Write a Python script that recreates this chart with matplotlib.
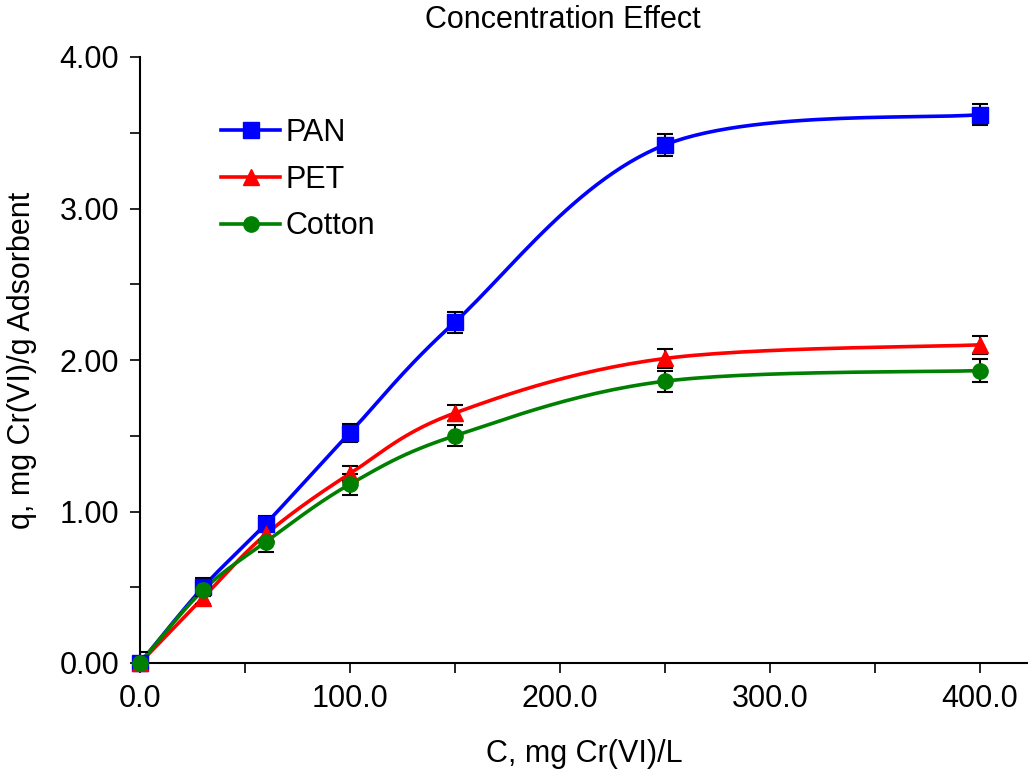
"""Concentration effect on Cr(VI) uptake for three adsorbents."""

import matplotlib

matplotlib.use("Agg")
import matplotlib.pyplot as plt
import numpy as np
from matplotlib.ticker import FormatStrFormatter, MultipleLocator

conc = [0, 30, 60, 100, 150, 250, 400]

pan = [0.00, 0.50, 0.92, 1.52, 2.25, 3.42, 3.62]
pan_err = [0.07, 0.06, 0.05, 0.06, 0.07, 0.075, 0.07]

pet = [0.00, 0.43, 0.85, 1.25, 1.65, 2.01, 2.10]
pet_err = [0.00, 0.04, 0.04, 0.05, 0.05, 0.06, 0.06]

cotton = [0.00, 0.48, 0.80, 1.18, 1.50, 1.86, 1.93]
cotton_err = [0.00, 0.04, 0.07, 0.07, 0.07, 0.07, 0.075]

series = [
    ("PAN", pan, pan_err, "#0000FF", "s"),
    ("PET", pet, pet_err, "#FF0000", "^"),
    ("Cotton", cotton, cotton_err, "#008000", "o"),
]


def smooth(xs, ys, n=30):
    # Excel-style smoothed line: Catmull-Rom segments in Bezier form
    p = np.column_stack([xs, ys]).astype(float)
    out = [p[0]]
    t = np.linspace(0, 1, n)[1:, None]
    for i in range(len(p) - 1):
        prev = p[i - 1] if i > 0 else p[i]
        nxt = p[i + 2] if i + 2 < len(p) else p[i + 1]
        c1 = p[i] + (p[i + 1] - prev) / 6
        c2 = p[i + 1] - (nxt - p[i]) / 6
        seg = ((1 - t) ** 3) * p[i] + 3 * ((1 - t) ** 2) * t * c1 \
            + 3 * (1 - t) * t ** 2 * c2 + t ** 3 * p[i + 1]
        out.extend(seg)
    out = np.array(out)
    return out[:, 0], out[:, 1]


def main() -> None:
    plt.rcParams["font.family"] = ["Liberation Sans", "DejaVu Sans"]

    fig = plt.figure(figsize=(10.28, 7.78), dpi=100)
    ax = fig.add_axes([140 / 1028, 1 - 663 / 778, 1 - 140 / 1028, (663 - 57) / 778])

    for name, vals, err, color, marker in series:
        sx, sy = smooth(conc, vals)
        ax.plot(sx, sy, color=color, lw=2.6, zorder=2)
        ax.errorbar(conc, vals, yerr=err, fmt="none", ecolor="black",
                    elinewidth=1.5, capsize=5.5, capthick=1.5, zorder=3)
        ax.plot(conc, vals, linestyle="none", marker=marker, color=color,
                markersize=11, clip_on=False, zorder=4)
        ax.plot([], [], color=color, lw=2.6, marker=marker, markersize=11,
                label=name)

    ax.set_xlim(0, 423)
    ax.set_ylim(0, 4)
    ax.xaxis.set_major_locator(MultipleLocator(100))
    ax.xaxis.set_minor_locator(MultipleLocator(50))
    ax.yaxis.set_major_locator(MultipleLocator(1))
    ax.yaxis.set_minor_locator(MultipleLocator(0.5))
    ax.xaxis.set_major_formatter(FormatStrFormatter("%.1f"))
    ax.yaxis.set_major_formatter(FormatStrFormatter("%.2f"))
    ax.tick_params(which="both", direction="out", length=7, width=1.2,
                   labelsize=22, pad=8)
    for side in ("top", "right"):
        ax.spines[side].set_visible(False)
    for side in ("left", "bottom"):
        ax.spines[side].set_linewidth(1.5)

    ax.set_xlabel("C, mg Cr(VI)/L", fontsize=22, labelpad=18)
    ax.set_ylabel("q, mg Cr(VI)/g Adsorbent", fontsize=22, labelpad=16)
    fig.text(563 / 1028, 1 - 20 / 778, "Concentration Effect", fontsize=22,
             ha="center", va="center")

    ax.legend(loc="upper left", bbox_to_anchor=(0.078, 0.92), frameon=False,
              fontsize=22, handlelength=1.9, handletextpad=0.2,
              labelspacing=0.55, borderaxespad=0)

    fig.savefig("out.png", dpi=100)
    plt.close(fig)


if __name__ == "__main__":
    main()
